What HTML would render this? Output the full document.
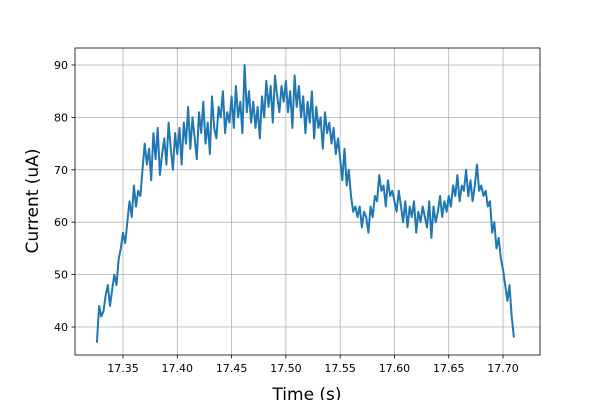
<!DOCTYPE html>
<html><head><meta charset="utf-8"><style>
body{margin:0;background:#fff}
svg text{font-family:"DejaVu Sans","Liberation Sans",sans-serif;fill:#000}
</style></head><body>
<svg id="chart" width="600" height="400" xmlns="http://www.w3.org/2000/svg">
<g id="grid"></g>
<path id="line" fill="none" stroke="#1f77b4" stroke-width="2" stroke-linejoin="round"></path>
<rect x="75" y="48" width="465" height="307" fill="none" stroke="#000" stroke-width="0.8"></rect>
<g id="ticks"></g>
<text x="307" y="400" font-size="17" text-anchor="middle">Time (s)</text>
<text transform="translate(38,201) rotate(-90)" font-size="17" text-anchor="middle">Current (uA)</text>
</svg>
<script>
const xTicks=[17.35,17.40,17.45,17.50,17.55,17.60,17.65,17.70];
const xTickLabels=["17.35","17.40","17.45","17.50","17.55","17.60","17.65","17.70"];
const yTicks=[40,50,60,70,80,90];
const yTickLabels=["40","50","60","70","80","90"];
const tStart=17.326, tStep=0.002;
const current=[37,44,42,43,46,48,44,47,50,48,53,55,58,56,60,64,61,67,63,66,65,
70,75,71,74,68,77,72,78,69,73,76,71,79,74,70,77,
73,78,71,79,75,82,74,80,76,72,81,77,83,75,79,73,84,78,76,82,80,85,77,81,79,
84,78,86,80,83,77,90,81,85,79,83,78,82,76,84,80,87,82,86,79,88,84,81,86,83,
87,81,85,78,88,82,86,80,84,77,83,79,85,76,82,78,80,74,81,77,79,75,78,73,76,
72,68,74,67,70,65,62,63,61,63,59,62,61,58,63,61,
65,64,69,66,67,63,68,65,66,64,
62,66,63,60,64,59,63,61,64,58,62,60,63,61,59,64,57,63,60,62,65,61,64,62,65,
63,67,65,69,64,67,66,70,65,68,64,67,71,66,67,
65,66,63,64,58,60,55,57,53,51,48,45,48,42,38];
const L=75,R=540,T=48,B=355;
const xs=v=>123+(v-17.35)/0.05*54.29;
const ys=v=>327-(v-40)/10*52.4;
const NS="http://www.w3.org/2000/svg";
const grid=document.getElementById('grid'),ticks=document.getElementById('ticks');
function mk(tag,attrs,parent){const e=document.createElementNS(NS,tag);for(const k in attrs)e.setAttribute(k,attrs[k]);parent.appendChild(e);return e;}
xTicks.forEach((v,i)=>{const x=xs(v);
 const g=mk('line',{x1:x,x2:x,y1:T,y2:B,stroke:'#b0b0b0','stroke-width':0.8},grid);
 
 
 const t=mk('line',{x1:x,x2:x,y1:B,y2:B+3.5,stroke:'#000','stroke-width':0.8},ticks);
 
 
 const l=mk('text',{x:x,y:B+17,'font-size':11,'text-anchor':'middle'},ticks);l.textContent=xTickLabels[i];
 
 });
yTicks.forEach((v,i)=>{const y=ys(v);
 const g=mk('line',{x1:L,x2:R,y1:y,y2:y,stroke:'#b0b0b0','stroke-width':0.8},grid);
 
 
 const t=mk('line',{x1:L-3.5,x2:L,y1:y,y2:y,stroke:'#000','stroke-width':0.8},ticks);
 
 
 const l=mk('text',{x:L-7,y:y+4,'font-size':11,'text-anchor':'end'},ticks);l.textContent=yTickLabels[i];
 
 });
document.getElementById('line').setAttribute('d',current.map((v,i)=>(i?'L':'M')+xs(tStart+i*tStep).toFixed(1)+','+ys(v).toFixed(1)).join(''));
</script>
</body></html>
